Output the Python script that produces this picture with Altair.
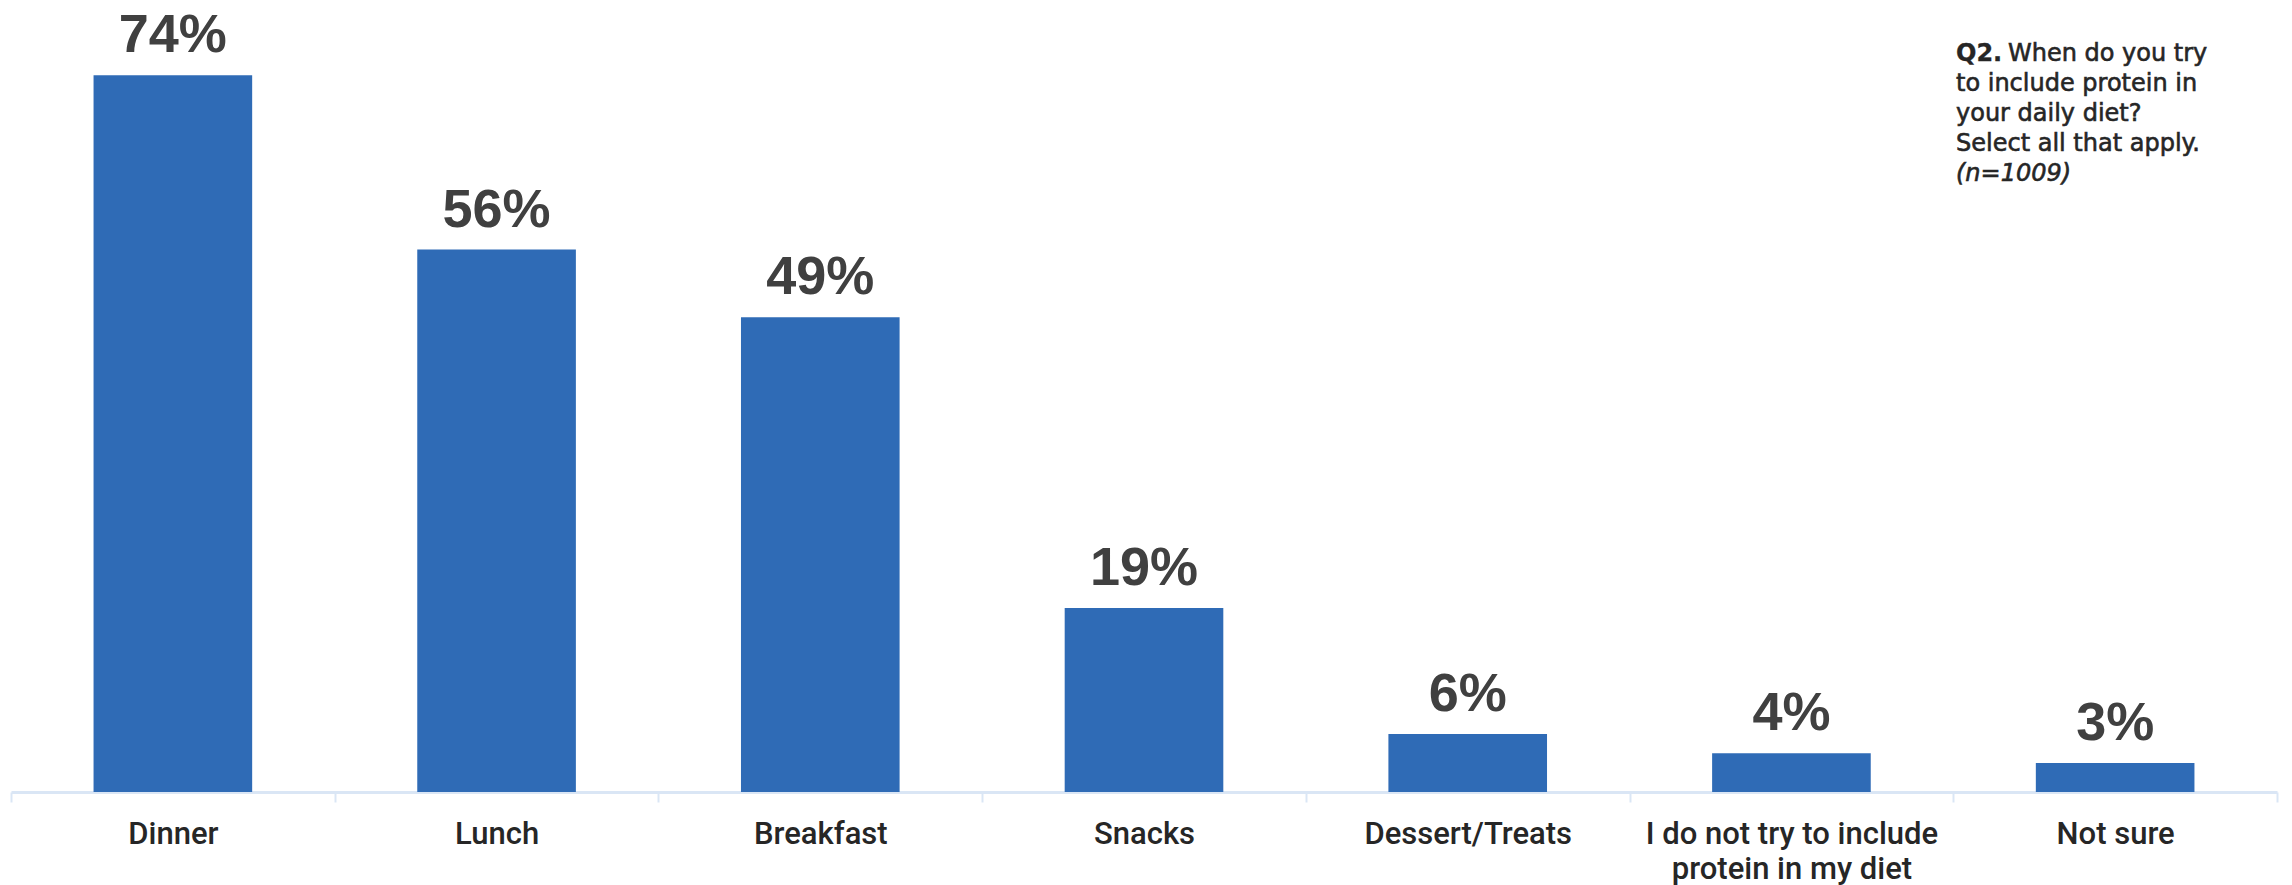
import altair as alt
import pandas as pd

categories = ["Dinner", "Lunch", "Breakfast", "Snacks", "Dessert/Treats",
              "I do not try to include|protein in my diet", "Not sure"]
values = [74, 56, 49, 19, 6, 4, 3]
value_labels = ["74%", "56%", "49%", "19%", "6%", "4%", "3%"]

note_lines = ["to include protein in", "your daily diet?", "Select all that apply."]
note_title_bold = "Q2."
note_title_rest = "When do you try"
note_n = "(n=1009)"

df = pd.DataFrame({"cat": categories, "val": values, "lab": value_labels})

W, H = 2266, 775

x = alt.X("cat:N", sort=categories, title=None,
          scale=alt.Scale(paddingInner=0, paddingOuter=0),
          axis=alt.Axis(labelAngle=0, labelFont="Roboto", labelFontSize=31, labelFontWeight=500,
                        labelColor="#262626", labelPadding=17, tickSize=10,
                        tickColor="#DAE6F5", tickWidth=2, domainColor="#DAE6F5",
                        domainWidth=3, tickBand="extent", labelLineHeight=35,
                        labelBaseline="top", labelLimit=0,
                        labelExpr="split(datum.label, '|')"))
y = alt.Y("val:Q", scale=alt.Scale(domain=[0, 80]), axis=None)

bars = alt.Chart(df).mark_bar(color="#2F6BB6", width=alt.RelativeBandSize(0.49)).encode(x=x, y=y)
labels = alt.Chart(df).mark_text(font="Liberation Sans", fontSize=54, fontWeight="bold",
                                 color="#404040", baseline="alphabetic", dy=-23).encode(
    x=alt.X("cat:N", sort=categories), y="val:Q", text="lab:N")

nx = 1956 - 11
base_y = 61 - 17
FS = 24
TXT = dict(font="DejaVu Sans", fontSize=FS, color="#262626", align="left",
           baseline="alphabetic", stroke="#262626", strokeWidth=0.6)

note_df = pd.DataFrame({"t": note_lines, "i": list(range(1, len(note_lines) + 1))})
note_body = alt.Chart(note_df).mark_text(**TXT).encode(
    x=alt.value(nx), y=alt.Y("iy:Q", scale=None), text="t:N"
).transform_calculate(iy=f"{base_y} + datum.i * 30")

t1 = alt.Chart(pd.DataFrame({"t": [note_title_bold]})).mark_text(
    **{**TXT, "fontWeight": "bold", "strokeWidth": 0.3}).encode(
    x=alt.value(nx), y=alt.value(base_y), text="t:N")
t2 = alt.Chart(pd.DataFrame({"t": [note_title_rest]})).mark_text(**TXT).encode(
    x=alt.value(nx + 52), y=alt.value(base_y), text="t:N")
t3 = alt.Chart(pd.DataFrame({"t": [note_n]})).mark_text(
    **{**TXT, "fontStyle": "italic"}).encode(
    x=alt.value(nx), y=alt.value(base_y + 120), text="t:N")

chart = alt.layer(bars, labels, note_body, t1, t2, t3).properties(
    width=W, height=H,
    background="white",
    autosize=alt.AutoSizeParams(type="none"),
    padding={"left": 11, "top": 17, "right": 15, "bottom": 93},
).configure_view(strokeWidth=0, stroke="transparent")

chart.save("out.html", embed_options={"renderer": "svg", "actions": False})
